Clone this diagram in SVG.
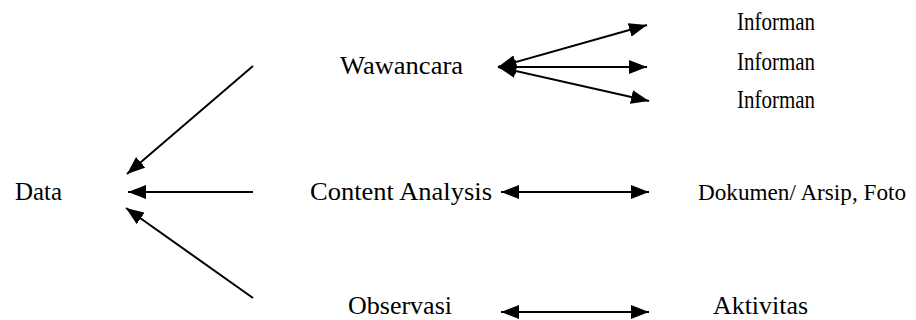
<svg xmlns="http://www.w3.org/2000/svg" width="916" height="320" viewBox="0 0 916 320">
<defs>
<style>
.t{font-family:"Liberation Serif","Times New Roman",serif;font-size:26px;fill:#000}
.s{font-size:24px}
.c{stroke:#000;stroke-width:2;fill:none}
</style>
<marker id="ah" viewBox="0 0 18 14" refX="18" refY="7" markerWidth="18" markerHeight="14" markerUnits="userSpaceOnUse" orient="auto-start-reverse">
<path d="M0,0 L18,7 L0,14 Z" fill="#000"/>
</marker>
</defs>
<rect width="916" height="320" fill="#fff"/>
<g id="connectors">
<line class="c" x1="253" y1="66" x2="127" y2="174" marker-end="url(#ah)"/>
<line class="c" x1="253" y1="192" x2="128" y2="192" marker-end="url(#ah)"/>
<line class="c" x1="253" y1="298" x2="126" y2="208" marker-end="url(#ah)"/>
<line class="c" x1="498" y1="67" x2="647" y2="25" marker-start="url(#ah)" marker-end="url(#ah)"/>
<line class="c" x1="498" y1="67" x2="647" y2="67" marker-start="url(#ah)" marker-end="url(#ah)"/>
<line class="c" x1="498" y1="67" x2="649" y2="101" marker-start="url(#ah)" marker-end="url(#ah)"/>
<line class="c" x1="501" y1="192" x2="649" y2="192" marker-start="url(#ah)" marker-end="url(#ah)"/>
<line class="c" x1="501" y1="312" x2="649" y2="312" marker-start="url(#ah)" marker-end="url(#ah)"/>
</g>
<g id="data"><text class="t" x="15" y="200" textLength="47" lengthAdjust="spacingAndGlyphs">Data</text></g>
<g id="wawancara"><text class="t" x="340" y="74" textLength="123" lengthAdjust="spacingAndGlyphs">Wawancara</text></g>
<g id="content-analysis"><text class="t" x="310" y="200" textLength="182" lengthAdjust="spacingAndGlyphs">Content Analysis</text></g>
<g id="observasi"><text class="t" x="348" y="314" textLength="104" lengthAdjust="spacingAndGlyphs">Observasi</text></g>
<g id="informan1"><text class="t" x="737" y="30" textLength="78" lengthAdjust="spacingAndGlyphs">Informan</text></g>
<g id="informan2"><text class="t" x="737" y="70" textLength="78" lengthAdjust="spacingAndGlyphs">Informan</text></g>
<g id="informan3"><text class="t" x="737" y="108" textLength="78" lengthAdjust="spacingAndGlyphs">Informan</text></g>
<g id="dokumen"><text class="t s" x="698" y="200" textLength="208" lengthAdjust="spacingAndGlyphs">Dokumen/ Arsip, Foto</text></g>
<g id="aktivitas"><text class="t" x="713" y="314" textLength="95" lengthAdjust="spacingAndGlyphs">Aktivitas</text></g>
</svg>
